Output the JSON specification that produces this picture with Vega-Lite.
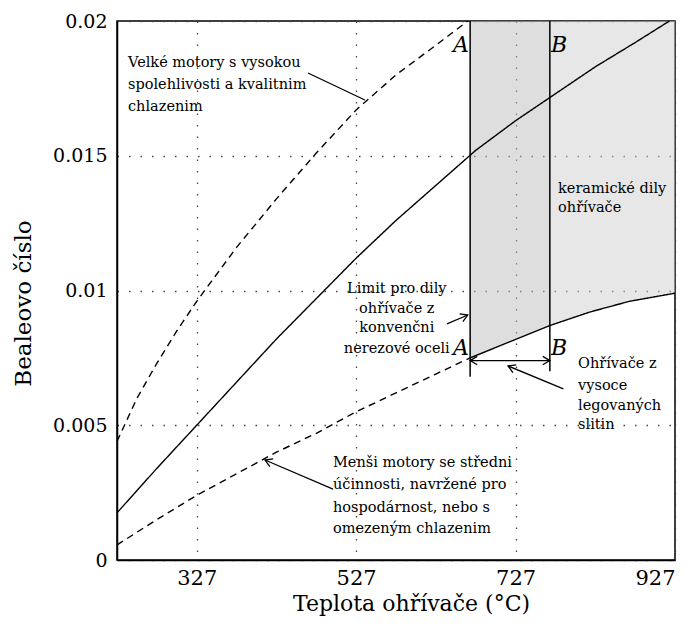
{
  "$schema": "https://vega.github.io/schema/vega-lite/v6.json",
  "width": 558,
  "height": 539,
  "autosize": {"type": "none"},
  "padding": {"left": 117, "top": 21, "right": 23, "bottom": 66},
  "background": "white",
  "config": {
    "view": {"stroke": "black", "strokeWidth": 1.5},
    "font": "DejaVu Serif",
    "text": {"font": "DejaVu Serif", "fontSize": 14.5, "color": "black"}
  },
  "datasets": {
    "curves": [
      {"t": 227, "b": 0.0044, "series": "upper"},
      {"t": 252, "b": 0.0060, "series": "upper"},
      {"t": 277, "b": 0.0073, "series": "upper"},
      {"t": 302, "b": 0.0085, "series": "upper"},
      {"t": 327, "b": 0.0096, "series": "upper"},
      {"t": 377, "b": 0.0116, "series": "upper"},
      {"t": 427, "b": 0.0134, "series": "upper"},
      {"t": 477, "b": 0.0151, "series": "upper"},
      {"t": 527, "b": 0.0167, "series": "upper"},
      {"t": 577, "b": 0.0180, "series": "upper"},
      {"t": 627, "b": 0.0191, "series": "upper"},
      {"t": 667, "b": 0.0200, "series": "upper"},
      {"t": 227, "b": 0.00175, "series": "middle"},
      {"t": 277, "b": 0.0034, "series": "middle"},
      {"t": 327, "b": 0.0050, "series": "middle"},
      {"t": 377, "b": 0.0066, "series": "middle"},
      {"t": 427, "b": 0.0082, "series": "middle"},
      {"t": 477, "b": 0.0097, "series": "middle"},
      {"t": 527, "b": 0.0112, "series": "middle"},
      {"t": 577, "b": 0.0126, "series": "middle"},
      {"t": 627, "b": 0.0139, "series": "middle"},
      {"t": 677, "b": 0.0152, "series": "middle"},
      {"t": 727, "b": 0.0163, "series": "middle"},
      {"t": 777, "b": 0.0173, "series": "middle"},
      {"t": 827, "b": 0.0183, "series": "middle"},
      {"t": 877, "b": 0.0192, "series": "middle"},
      {"t": 920, "b": 0.0200, "series": "middle"},
      {"t": 227, "b": 0.00056, "series": "lower"},
      {"t": 277, "b": 0.0015, "series": "lower"},
      {"t": 327, "b": 0.0024, "series": "lower"},
      {"t": 377, "b": 0.0032, "series": "lower"},
      {"t": 427, "b": 0.0040, "series": "lower"},
      {"t": 477, "b": 0.0047, "series": "lower"},
      {"t": 527, "b": 0.0055, "series": "lower"},
      {"t": 577, "b": 0.0062, "series": "lower"},
      {"t": 627, "b": 0.0069, "series": "lower"},
      {"t": 670, "b": 0.0075, "series": "lower"},
      {"t": 670, "b": 0.0075, "series": "lower-limit"},
      {"t": 720, "b": 0.0081, "series": "lower-limit"},
      {"t": 770, "b": 0.0087, "series": "lower-limit"},
      {"t": 820, "b": 0.0092, "series": "lower-limit"},
      {"t": 870, "b": 0.0096, "series": "lower-limit"},
      {"t": 927, "b": 0.0099, "series": "lower-limit"}
    ],
    "zone": [
      {"t": 670, "lo": 0.0075, "hi": 0.02, "part": "steel"},
      {"t": 720, "lo": 0.0081, "hi": 0.02, "part": "steel"},
      {"t": 770, "lo": 0.0087, "hi": 0.02, "part": "steel"},
      {"t": 770, "lo": 0.0087, "hi": 0.02, "part": "ceramic"},
      {"t": 820, "lo": 0.0092, "hi": 0.02, "part": "ceramic"},
      {"t": 870, "lo": 0.0096, "hi": 0.02, "part": "ceramic"},
      {"t": 927, "lo": 0.0099, "hi": 0.02, "part": "ceramic"}
    ],
    "verticals": [
      {"t": 670, "b1": 0.0068, "b2": 0.02},
      {"t": 770, "b1": 0.0070, "b2": 0.02}
    ],
    "leaders": [
      {"t": 670, "b": 0.0074, "t2": 770, "b2": 0.0074},
      {"t": 466.6, "b": 0.01807, "t2": 538, "b2": 0.01707},
      {"t": 641, "b": 0.00876, "t2": 667, "b2": 0.00909},
      {"t": 787, "b": 0.00635, "t2": 717.6, "b2": 0.0072},
      {"t": 498, "b": 0.00263, "t2": 412.7, "b2": 0.00371}
    ],
    "heads": [
      {"t": 667, "b": 0.00909, "dir": 337},
      {"t": 717.6, "b": 0.0072, "dir": 203},
      {"t": 412.7, "b": 0.00371, "dir": 203},
      {"t": 670, "b": 0.0074, "dir": 180},
      {"t": 770, "b": 0.0074, "dir": 0}
    ],
    "notes": [
      {"t": 240.8, "b": 0.01829, "label": "Velké motory s vysokou", "grp": "left"},
      {"t": 240.8, "b": 0.01748, "label": "spolehlivosti a kvalitnim", "grp": "left"},
      {"t": 240.8, "b": 0.01666, "label": "chlazenim", "grp": "left"},
      {"t": 780.3, "b": 0.01362, "label": "keramické dily", "grp": "left"},
      {"t": 780.3, "b": 0.01291, "label": "ohřívače", "grp": "left"},
      {"t": 805.4, "b": 0.00712, "label": "Ohřívače z", "grp": "left"},
      {"t": 805.4, "b": 0.00631, "label": "vysoce", "grp": "left"},
      {"t": 805.4, "b": 0.00557, "label": "legovaných", "grp": "left"},
      {"t": 805.4, "b": 0.00486, "label": "slitin", "grp": "left"},
      {"t": 498, "b": 0.00345, "label": "Menši motory se středni", "grp": "left"},
      {"t": 498, "b": 0.00263, "label": "účinnosti, navržené pro", "grp": "left"},
      {"t": 498, "b": 0.00178, "label": "hospodárnost, nebo s", "grp": "left"},
      {"t": 498, "b": 0.0010, "label": "omezeným chlazenim", "grp": "left"},
      {"t": 578, "b": 0.00991, "label": "Limit pro dily", "grp": "center"},
      {"t": 578, "b": 0.00917, "label": "ohřívače z", "grp": "center"},
      {"t": 578, "b": 0.00846, "label": "konvenčni", "grp": "center"},
      {"t": 578, "b": 0.00768, "label": "nerezové oceli", "grp": "center"},
      {"t": 658.6, "b": 0.01885, "label": "A", "grp": "ital"},
      {"t": 781.6, "b": 0.01885, "label": "B", "grp": "ital"},
      {"t": 658.6, "b": 0.00761, "label": "A", "grp": "ital"},
      {"t": 781.6, "b": 0.00761, "label": "B", "grp": "ital"}
    ]
  },
  "encoding": {
    "x": {
      "field": "t", "type": "quantitative",
      "scale": {"domain": [227, 927], "nice": false, "zero": false},
      "axis": {
        "values": [327, 527, 727, 927],
        "title": "Teplota ohřívače (°C)",
        "titleFont": "DejaVu Serif", "titleFontSize": 22, "titleFontWeight": "normal", "titleColor": "black",
        "titlePadding": 5, "titleX": 294, "titleAlign": "center", "titleAnchor": null,
        "labelFont": "DejaVu Serif", "labelFontSize": 21, "labelColor": "black", "labelPadding": 7,
        "ticks": false,
        "domainColor": "black", "domainWidth": 1.5,
        "grid": true, "gridDash": [1.5, 10], "gridColor": "#444", "gridWidth": 1.3
      }
    },
    "y": {
      "field": "b", "type": "quantitative",
      "scale": {"domain": [0, 0.02], "nice": false, "zero": false},
      "axis": {
        "values": [0, 0.005, 0.01, 0.015, 0.02],
        "format": "~g",
        "title": "Bealeovo číslo",
        "titleFont": "DejaVu Serif", "titleFontSize": 23, "titleFontWeight": "normal", "titleColor": "black",
        "titlePadding": 17, "titleY": 282, "titleAlign": "center", "titleAnchor": null,
        "labelFont": "DejaVu Serif", "labelFontSize": 19, "labelColor": "black", "labelPadding": 10,
        "ticks": false,
        "domainColor": "black", "domainWidth": 1.5,
        "grid": true, "gridDash": [1.5, 10], "gridColor": "#444", "gridWidth": 1.3
      }
    }
  },
  "layer": [
    {
      "data": {"name": "zone"},
      "mark": {"type": "area", "opacity": 0.5},
      "encoding": {
        "y": {"field": "lo", "type": "quantitative"},
        "y2": {"field": "hi"},
        "fill": {
          "field": "part", "type": "nominal",
          "scale": {"domain": ["steel", "ceramic"], "range": ["#bdbdbd", "#cfcfcf"]},
          "legend": null
        }
      }
    },
    {
      "data": {"name": "curves"},
      "mark": {"type": "line", "color": "black", "strokeWidth": 1.4},
      "encoding": {
        "detail": {"field": "series"},
        "strokeDash": {
          "field": "series", "type": "nominal",
          "scale": {"domain": ["upper", "middle", "lower", "lower-limit"], "range": [[7, 5], [1, 0], [7, 5], [1, 0]]},
          "legend": null
        },
        "strokeWidth": {
          "field": "series", "type": "nominal",
          "scale": {"domain": ["upper", "middle", "lower", "lower-limit"], "range": [1.4, 1.4, 1.4, 2]},
          "legend": null
        }
      }
    },
    {
      "data": {"name": "verticals"},
      "mark": {"type": "rule", "color": "black", "strokeWidth": 1.5},
      "encoding": {
        "y": {"field": "b1", "type": "quantitative"},
        "y2": {"field": "b2"}
      }
    },
    {
      "data": {"name": "leaders"},
      "mark": {"type": "rule", "color": "black", "strokeWidth": 1.3},
      "encoding": {
        "x2": {"field": "t2"},
        "y2": {"field": "b2"}
      }
    },
    {
      "data": {"name": "heads"},
      "mark": {"type": "point", "shape": "M-1,-0.6L0,0L-1,0.6", "filled": false, "color": "black", "strokeWidth": 1.3, "size": 200, "opacity": 1},
      "encoding": {
        "angle": {"field": "dir", "type": "quantitative", "scale": null}
      }
    },
    {
      "data": {"name": "notes"},
      "transform": [{"filter": "datum.grp === 'left'"}],
      "mark": {"type": "text", "align": "left", "baseline": "alphabetic", "font": "DejaVu Serif", "fontSize": 14.5},
      "encoding": {"text": {"field": "label"}}
    },
    {
      "data": {"name": "notes"},
      "transform": [{"filter": "datum.grp === 'center'"}],
      "mark": {"type": "text", "align": "center", "baseline": "alphabetic", "font": "DejaVu Serif", "fontSize": 14.5},
      "encoding": {"text": {"field": "label"}}
    },
    {
      "data": {"name": "notes"},
      "transform": [{"filter": "datum.grp === 'ital'"}],
      "mark": {"type": "text", "align": "center", "baseline": "alphabetic", "font": "DejaVu Serif", "fontSize": 22, "fontStyle": "italic"},
      "encoding": {"text": {"field": "label"}}
    }
  ]
}
